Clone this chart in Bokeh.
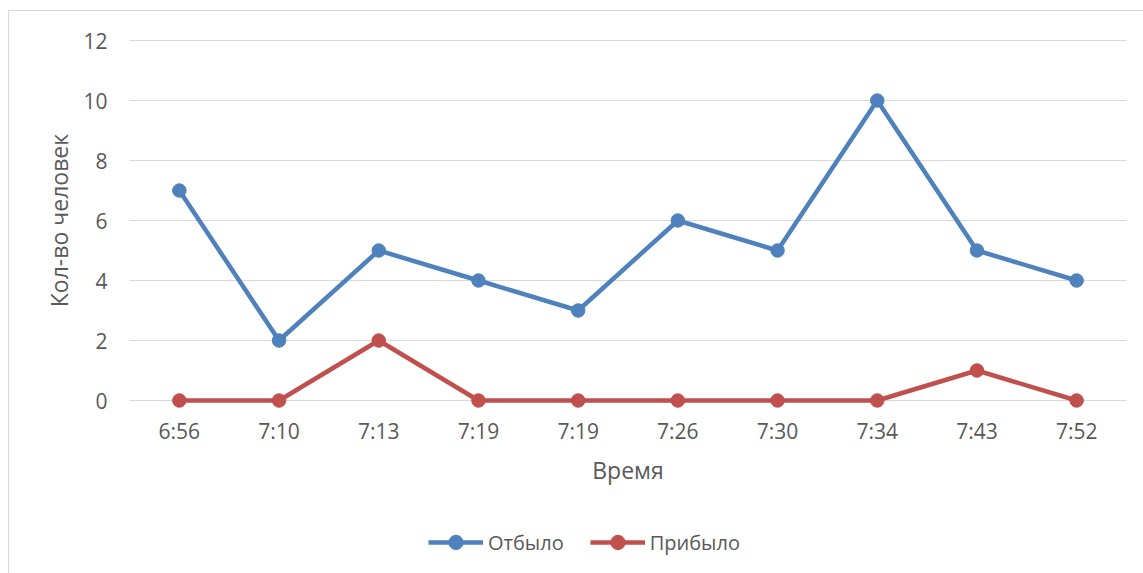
from bokeh.plotting import figure
from bokeh.layouts import column
from bokeh.models import Range1d, FixedTicker, Legend, LegendItem
from bokeh.embed import file_html
from bokeh.resources import INLINE

# Departure times (two trips share 7:19)
times = ["6:56", "7:10", "7:13", "7:19", "7:19", "7:26", "7:30", "7:34", "7:43", "7:52"]
departed = [7, 2, 5, 4, 3, 6, 5, 10, 5, 4]   # Отбыло
arrived = [0, 0, 2, 0, 0, 0, 0, 0, 1, 0]     # Прибыло
y_ticks = [0, 2, 4, 6, 8, 10, 12]

FONT = "Open Sans"
TEXT = "#595959"
BLUE = "#4F81BD"
RED = "#C0504D"
W = 1134

xs = [i + 0.5 for i in range(len(times))]

p = figure(
    width=W, height=480,
    output_backend="svg", toolbar_location=None,
    x_range=Range1d(0, len(times)), y_range=Range1d(-0.3, 12.3),
    min_border_left=120, min_border_right=17,
    min_border_top=20, min_border_bottom=82,
    background_fill_color="white", border_fill_color="white",
    outline_line_color=None,
)

p.xgrid.grid_line_color = None
p.ygrid.grid_line_color = "#d9d9d9"
p.ygrid.grid_line_width = 1.2

p.xaxis.ticker = FixedTicker(ticks=xs)
p.xaxis.major_label_overrides = {x: t for x, t in zip(xs, times)}
p.yaxis.ticker = FixedTicker(ticks=y_ticks)

for ax in (p.xaxis[0], p.yaxis[0]):
    ax.axis_line_color = None
    ax.major_tick_line_color = None
    ax.minor_tick_line_color = None
    ax.major_tick_out = 0
    ax.major_tick_in = 0
    ax.major_label_text_font = FONT
    ax.major_label_text_font_size = "21px"
    ax.major_label_text_color = TEXT
    ax.axis_label_text_font = FONT
    ax.axis_label_text_font_size = "23px"
    ax.axis_label_text_font_style = "normal"
    ax.axis_label_text_color = TEXT

p.xaxis.axis_label = "Время"
p.yaxis.axis_label = "Кол-во человек"
p.xaxis.major_label_standoff = 7
p.xaxis.axis_label_standoff = 6
p.yaxis.major_label_standoff = 22
p.yaxis.axis_label_standoff = 5

p.line(xs, departed, line_color=BLUE, line_width=4.5)
p.scatter(xs, departed, size=13.5, fill_color=BLUE, line_color=BLUE)
p.line(xs, arrived, line_color=RED, line_width=4.5)
p.scatter(xs, arrived, size=13.5, fill_color=RED, line_color=RED)

# Legend strip under the chart; its key renderers sit outside the visible range
key = figure(
    width=W, height=82,
    output_backend="svg", toolbar_location=None,
    x_axis_type=None, y_axis_type=None,
    x_range=Range1d(0, 1), y_range=Range1d(0, 1),
    min_border=0, outline_line_color=None,
    background_fill_color="white", border_fill_color="white",
)
key.xgrid.visible = False
key.ygrid.visible = False
k1 = key.line([-5, -4], [-5, -5], line_color=BLUE, line_width=4.5)
s1 = key.scatter([-5], [-5], size=13, fill_color=BLUE, line_color=BLUE)
k2 = key.line([-5, -4], [-5, -5], line_color=RED, line_width=4.5)
s2 = key.scatter([-5], [-5], size=13, fill_color=RED, line_color=RED)

legend = Legend(
    items=[LegendItem(label="Отбыло", renderers=[k1, s1]),
           LegendItem(label="Прибыло", renderers=[k2, s2])],
    orientation="horizontal",
    location=(299, 13),
    glyph_width=55, glyph_height=36,
    label_text_font=FONT, label_text_font_size="20px", label_text_color=TEXT,
    label_standoff=5, spacing=26, padding=0, margin=0,
    border_line_color=None, background_fill_alpha=0,
)
key.add_layout(legend, "center")

page = column(
    p, key,
    spacing=0,
    margin=(10, 0, 0, 8),
    styles={"border-top": "1px solid #d9d9d9", "border-left": "1px solid #d9d9d9"},
)

open("out.html", "w").write(file_html(page, INLINE))
